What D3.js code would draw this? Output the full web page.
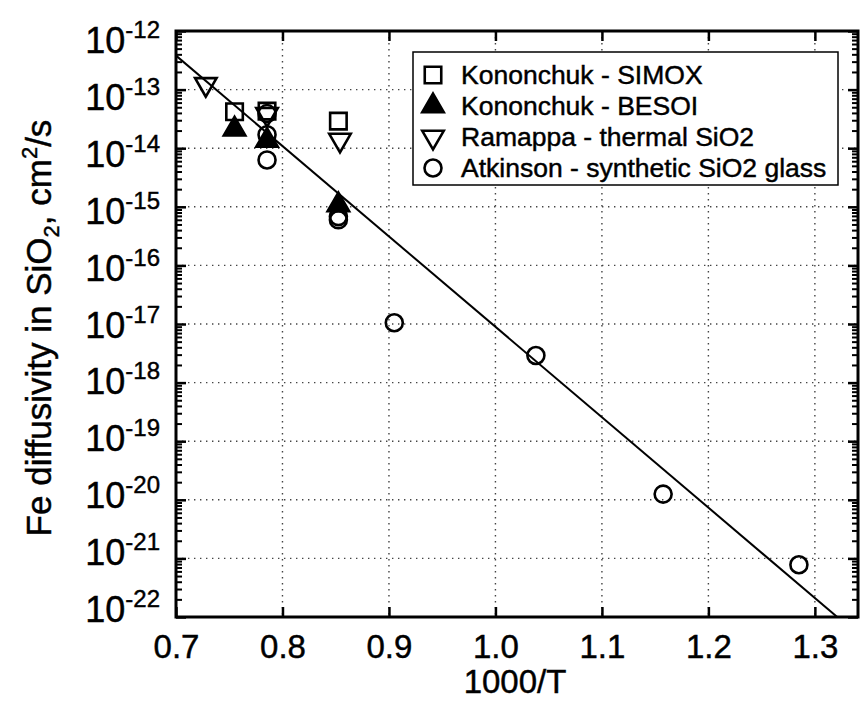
<!DOCTYPE html>
<html><head><meta charset="utf-8">
<script src="https://cdn.jsdelivr.net/npm/d3@7"></script>
<style>
html,body{margin:0;padding:0;background:#fff;}
svg{display:block;font-family:"Liberation Sans",Arial,Helvetica,sans-serif;}
text{stroke:#000;stroke-width:0.45px;fill:#000;}
</style></head>
<body><svg id="chart" width="860" height="702"></svg>
<script>
// ---- data ----
const simoxX = [0.755, 0.7855, 0.8525];
const simoxY = [4.2e-14, 4.3e-14, 2.9e-14];
const besoiX = [0.755, 0.7855, 0.8525];
const besoiY = [2.1e-14, 1.35e-14, 1.07e-15];
const ramappaX = [0.728, 0.7855, 0.854];
const ramappaY = [1.23e-13, 3.8e-14, 1.38e-14];
const atkinsonX = [0.7855, 0.7855, 0.7855, 0.8525, 0.8525, 0.905, 1.038, 1.1575, 1.285];
const atkinsonY = [3.9e-14, 1.7e-14, 6.3e-15, 6.8e-16, 6.0e-16, 1.05e-17, 2.9e-18, 1.25e-20, 7.8e-22];
const fitX = [0.7, 1.321];
const fitY = [Math.pow(10, -12.42), 1e-22];
const xTicks = [0.7, 0.8, 0.9, 1.0, 1.1, 1.2, 1.3];
const yExponents = [-12, -13, -14, -15, -16, -17, -18, -19, -20, -21, -22];
const legendLabels = ["Kononchuk - SIMOX", "Kononchuk - BESOI", "Ramappa - thermal SiO2", "Atkinson - synthetic SiO2 glass"];

// ---- layout ----
const svg = d3.select("#chart");
const L = 176, R = 858, T = 31, B = 617;
const x = d3.scaleLinear().domain([0.7, 1.3405]).range([L, R]);
const y = d3.scaleLog().domain([1e-22, 1e-12]).range([B, T]);
// tick-label placement (labels sit slightly compressed relative to the ticks, as in the original)
const yLab = d3.scaleLinear().domain([-12, -22]).range([40, 609]);

const decades = yExponents.map(e => Math.pow(10, e));
const minors = [];
for (let e = -22; e < -12; e++) for (let k = 2; k <= 9; k++) minors.push(k * Math.pow(10, e));

// gridlines
const grid = svg.append("g").attr("stroke", "#444").attr("stroke-width", 1.4).attr("stroke-dasharray", "1.4,4.6");
xTicks.filter(v => v > 0.7).forEach(v => {
  grid.append("line").attr("x1", x(v)).attr("x2", x(v)).attr("y1", T).attr("y2", B);
});
decades.filter(v => v > 1e-22 && v < 1e-12).forEach(v => {
  grid.append("line").attr("x1", L).attr("x2", R).attr("y1", y(v)).attr("y2", y(v));
});

// axes
const fmtX = d3.format(".1f");
const gx = svg.append("g").attr("transform", `translate(0,${B})`)
  .call(d3.axisBottom(x).tickValues(xTicks).tickFormat(fmtX).tickSizeInner(-10).tickSizeOuter(0).tickPadding(18));
gx.selectAll("text").attr("font-size", 33).attr("font-family", "Liberation Sans, Arial, sans-serif");
const gxt = svg.append("g").attr("transform", `translate(0,${T})`)
  .call(d3.axisTop(x).tickValues(xTicks).tickFormat("").tickSizeInner(-10).tickSizeOuter(0));

const gy = svg.append("g").attr("transform", `translate(${L},0)`)
  .call(d3.axisLeft(y).tickValues(decades).tickSizeInner(-10).tickSizeOuter(0).tickFormat(""));
const gym = svg.append("g").attr("transform", `translate(${L},0)`)
  .call(d3.axisLeft(y).tickValues(minors).tickSizeInner(-6).tickSizeOuter(0).tickFormat(""));
const gyr = svg.append("g").attr("transform", `translate(${R},0)`)
  .call(d3.axisRight(y).tickValues(decades).tickSizeInner(-10).tickSizeOuter(0).tickFormat(""));
const gyrm = svg.append("g").attr("transform", `translate(${R},0)`)
  .call(d3.axisRight(y).tickValues(minors).tickSizeInner(-6).tickSizeOuter(0).tickFormat(""));
[gx, gxt, gy, gyr].forEach(g => { g.select(".domain").remove(); g.selectAll(".tick line").attr("stroke", "#000").attr("stroke-width", 2.5); });
[gym, gyrm].forEach(g => { g.select(".domain").remove(); g.selectAll(".tick line").attr("stroke", "#000").attr("stroke-width", 2); });

// y tick labels with superscripts
const ylabels = svg.append("g").attr("text-anchor", "end").attr("font-size", 36);
yExponents.forEach(e => {
  const t = ylabels.append("text").attr("x", L - 16).attr("y", yLab(e) + 13);
  t.append("tspan").text("10");
  t.append("tspan").attr("font-size", 24).attr("dy", -15).text(String(e));
});

// frame
svg.append("rect").attr("x", L).attr("y", T).attr("width", R - L).attr("height", B - T)
  .attr("fill", "none").attr("stroke", "#000").attr("stroke-width", 3);

// clip
svg.append("clipPath").attr("id", "clip").append("rect").attr("x", L).attr("y", T).attr("width", R - L).attr("height", B - T);

// fit line
const line = d3.line().x(d => x(d[0])).y(d => y(d[1]));
svg.append("path").datum(d3.zip(fitX, fitY)).attr("clip-path", "url(#clip)")
  .attr("d", line).attr("fill", "none").attr("stroke", "#000").attr("stroke-width", 2);

// markers
const sq = d3.symbol().type(d3.symbolSquare).size(16.5 * 16.5);
const tri = d3.symbol().type(d3.symbolTriangle).size(200);
const circ = d3.symbol().type(d3.symbolCircle).size(Math.PI * 8.5 * 8.5);
const marks = svg.append("g");
function drawSeries(xs, ys, sym, fill, rot) {
  marks.append("g").selectAll("path").data(d3.zip(xs, ys)).join("path")
    .attr("d", sym)
    .attr("transform", d => `translate(${x(d[0])},${y(d[1])}) rotate(${rot})`)
    .attr("fill", fill).attr("stroke", "#000").attr("stroke-width", 2.6);
}
drawSeries(simoxX, simoxY, sq, "none", 0);
drawSeries(atkinsonX, atkinsonY, circ, "none", 0);
drawSeries(ramappaX, ramappaY, tri, "none", 180);
drawSeries(besoiX, besoiY, tri, "#000", 0);

// legend
const lg = svg.append("g");
lg.append("rect").attr("x", 413).attr("y", 52).attr("width", 425).attr("height", 133)
  .attr("fill", "#fff").attr("stroke", "#000").attr("stroke-width", 1.5);
const legSyms = [[sq, "none", 0], [tri, "#000", 0], [tri, "none", 180], [circ, "none", 0]];
legendLabels.forEach((lab, i) => {
  const cy = 75 + i * 31;
  const s = legSyms[i];
  lg.append("path").attr("d", s[0]).attr("transform", `translate(433,${cy}) rotate(${s[2]})`)
    .attr("fill", s[1]).attr("stroke", "#000").attr("stroke-width", 2.6);
  lg.append("text").attr("x", 461).attr("y", cy + 9).attr("font-size", 26.5).text(lab);
});

// axis titles
svg.append("text").attr("x", (L + R) / 2 - 2).attr("y", 693).attr("text-anchor", "middle")
  .attr("font-size", 33).text("1000/T");
const yt = svg.append("text").attr("transform", "translate(51,328) rotate(-90)").attr("text-anchor", "middle")
  .attr("font-size", 35);
yt.append("tspan").text("Fe diffusivity in SiO");
yt.append("tspan").attr("font-size", 22).attr("dy", 8).text("2");
yt.append("tspan").attr("dy", -8).text(", cm");
yt.append("tspan").attr("font-size", 22).attr("dy", -14).text("2");
yt.append("tspan").attr("dy", 14).text("/s");
</script></body></html>
